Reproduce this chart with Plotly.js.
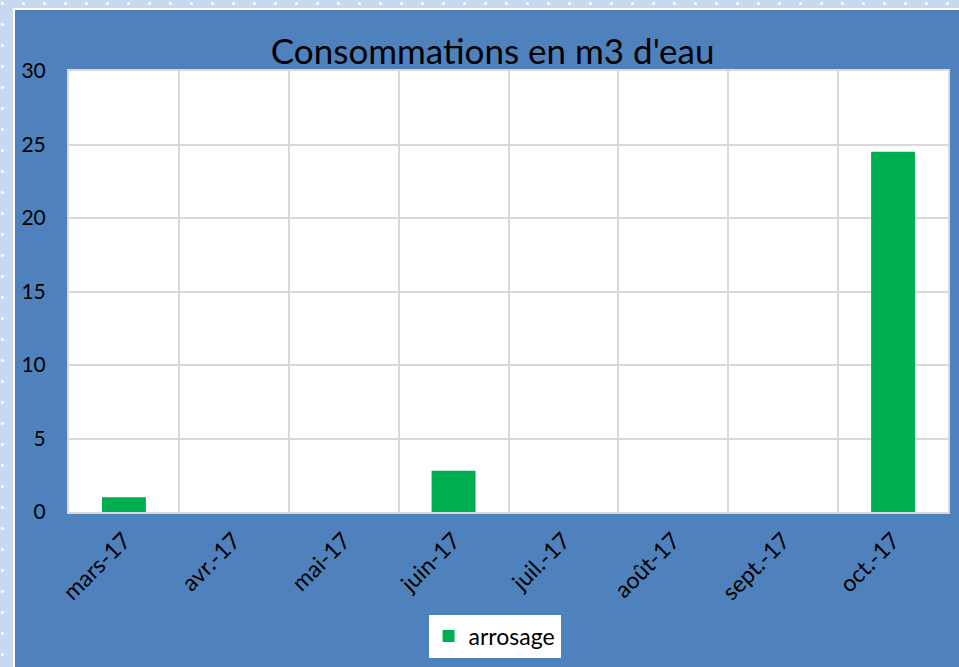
<!DOCTYPE html>
<html>
<head>
<meta charset="utf-8">
<script src="https://cdn.plot.ly/plotly-3.0.1.min.js"></script>
<style>
html,body{margin:0;padding:0;}
body{width:959px;height:667px;overflow:hidden;position:relative;
  background-color:#c6d9f1;
  background-image:radial-gradient(circle, #ffffff 1.2px, transparent 1.6px);
  background-size:21px 21px;background-position:-8px -7px;}
#frame{position:absolute;left:13px;top:8px;width:946px;height:659px;background:#ffffff;}
#chart{position:absolute;left:15px;top:10px;width:944px;height:657px;}
</style>
</head>
<body>
<div id="frame"></div>
<div id="chart"></div>
<script>
const categories = ["mars-17","avr.-17","mai-17","juin-17","juil.-17","août-17","sept.-17","oct.-17"];
const arrosage = [1, 0, 0, 2.8, 0, 0, 0, 24.5];
const seriesName = "arrosage";
const yTicks = [0,5,10,15,20,25,30];

const FONT = "Lato, 'Liberation Sans', sans-serif";
const data = [{
  type: "bar",
  x: categories,
  y: arrosage,
  name: seriesName,
  marker: {color: "#00b050", line: {width: 0}},
  showlegend: true
}];
const layout = {
  width: 944, height: 657,
  paper_bgcolor: "#4f81bd",
  plot_bgcolor: "#ffffff",
  margin: {l: 54, r: 11, t: 61, b: 155},
  font: {family: FONT, color: "#000000", size: 18},
  title: {text: "Consommations en m3 d'eau", font: {family: FONT, size: 35, color: "#000000"},
          xref: "container", yref: "container",
          x: 0.506, xanchor: "center", y: 0.936, yanchor: "middle"},
  bargap: 0.6,
  xaxis: {
    type: "category", tickson: "boundaries", showgrid: true, gridcolor: "#d9d9d9", gridwidth: 2,
    tickangle: -45, ticks: "", showline: true, linecolor: "#d9d9d9", linewidth: 2, mirror: true,
    automargin: false, ticklabelstandoff: 4,
    tickfont: {family: FONT, size: 23, color: "#000000"}
  },
  yaxis: {
    range: [0, 30], tickvals: yTicks, ticktext: yTicks.map(String),
    showgrid: true, gridcolor: "#d9d9d9", gridwidth: 2, zeroline: false,
    showline: true, linecolor: "#d9d9d9", linewidth: 2, mirror: true,
    ticks: "", ticklabelstandoff: 17, automargin: false,
    tickfont: {family: FONT, size: 21, color: "#000000"}
  },
  legend: {orientation: "h", xref: "container", yref: "container",
           x: 0.508, xanchor: "center", y: 0.047, yanchor: "middle",
           bgcolor: "#ffffff", font: {family: FONT, size: 23, color: "#000000"},
           borderwidth: 0},
  showlegend: true
};
Plotly.newPlot("chart", data, layout, {displayModeBar: false, staticPlot: true});
</script>
</body>
</html>
